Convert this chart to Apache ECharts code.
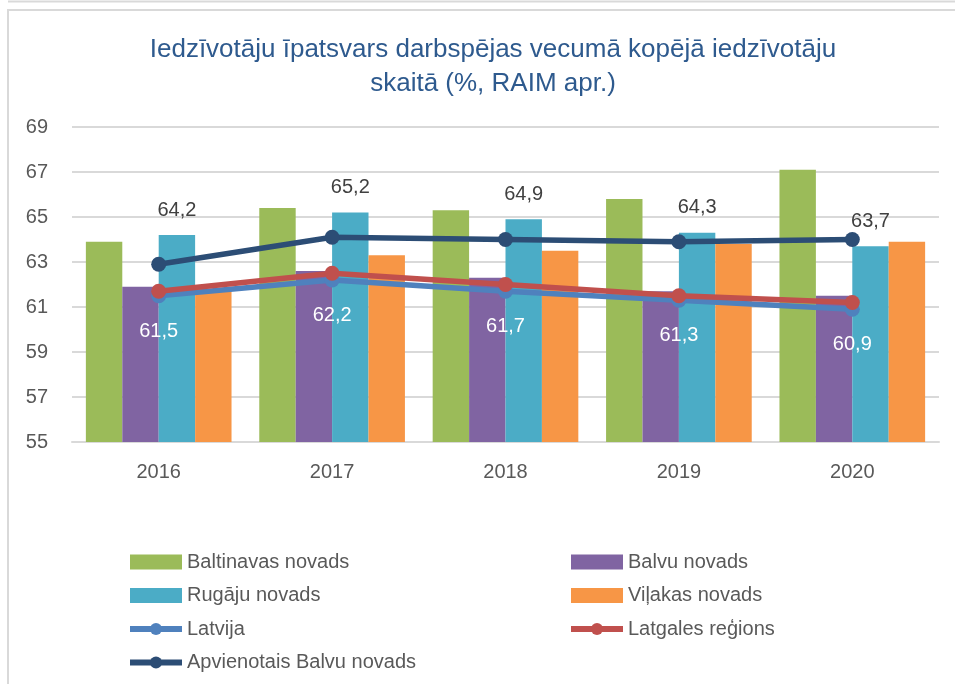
<!DOCTYPE html>
<html>
<head>
<meta charset="utf-8">
<title>Iedzīvotāju īpatsvars darbspējas vecumā</title>
<script src="https://cdn.jsdelivr.net/npm/echarts@6.0.0/dist/echarts.min.js"></script>
<style>
  html, body { margin: 0; padding: 0; background: #fff; }
  #chart { width: 955px; height: 684px; }
</style>
</head>
<body>
<div id="chart"></div>
<script>
const years = ["2016", "2017", "2018", "2019", "2020"];
const baltinavas = [63.9, 65.4, 65.3, 65.8, 67.1];
const balvu = [61.9, 62.6, 62.3, 61.7, 61.5];
const rugaju = [64.2, 65.2, 64.9, 64.3, 63.7];
const vilakas = [61.8, 63.3, 63.5, 63.8, 63.9];
const latvija = [61.5, 62.2, 61.7, 61.3, 60.9];
const latgale = [61.7, 62.5, 62.0, 61.5, 61.2];
const apvienotais = [62.9, 64.1, 64.0, 63.9, 64.0];

window.addEventListener("load", function () {
  const chart = echarts.init(document.getElementById("chart"));
  const font = "Liberation Sans";
  const comma = (p) => String(p.value.toFixed(1)).replace(".", ",");

  const bar = (name, data, color, extra) =>
    Object.assign(
      {
        name: name,
        type: "bar",
        data: data,
        barGap: "0%",
        barCategoryGap: "16%",
        itemStyle: { color: color },
        z: 2,
      },
      extra || {}
    );

  const line = (name, data, color, extra) =>
    Object.assign(
      {
        name: name,
        type: "line",
        data: data,
        symbol: "circle",
        symbolSize: 15,
        lineStyle: { color: color, width: 5.5 },
        itemStyle: { color: color },
        z: 5,
      },
      extra || {}
    );

  const legendText = { color: "#595959", fontSize: 20, fontFamily: font, lineHeight: 20 };
  const barItem = (name) => ({ name: name, icon: "rect" });
  const lineItem = (name) => ({ name: name, lineStyle: { width: 6 } });

  let option = {
    backgroundColor: "#fff",
    animation: false,
    title: {
      text: "Iedzīvotāju īpatsvars darbspējas vecumā kopējā iedzīvotāju\nskaitā (%, RAIM apr.)",
      left: 488,
      textAlign: "center",
      top: 28,
      textStyle: {
        color: "#2E5A8E",
        fontSize: 26,
        fontWeight: "normal",
        fontFamily: font,
        lineHeight: 34,
      },
    },
    graphic: [
      { type: "line", shape: { x1: 8, y1: 1.5, x2: 955, y2: 1.5 }, style: { stroke: "#d9d9d9", lineWidth: 2 } },
      { type: "line", shape: { x1: 8, y1: 10, x2: 955, y2: 10 }, style: { stroke: "#d9d9d9", lineWidth: 2 } },
      { type: "line", shape: { x1: 8, y1: 9, x2: 8, y2: 684 }, style: { stroke: "#d9d9d9", lineWidth: 2 } },
    ],
    legend: [
      {
        orient: "vertical",
        left: 122,
        top: 547,
        itemWidth: 52,
        itemHeight: 15,
        itemGap: 13.5,
        textStyle: legendText,
        data: [
          barItem("Baltinavas novads"),
          barItem("Rugāju novads"),
          lineItem("Latvija"),
          lineItem("Apvienotais Balvu novads"),
        ],
      },
      {
        orient: "vertical",
        left: 563,
        top: 547,
        itemWidth: 52,
        itemHeight: 15,
        itemGap: 13.5,
        textStyle: legendText,
        data: [barItem("Balvu novads"), barItem("Viļakas novads"), lineItem("Latgales reģions")],
      },
    ],
    grid: { left: 72, right: 16, top: 127, bottom: 242 },
    xAxis: {
      type: "category",
      data: years,
      axisTick: { show: false },
      axisLine: { lineStyle: { color: "#d9d9d9", width: 2 } },
      axisLabel: { color: "#595959", fontSize: 20, fontFamily: font, margin: 20 },
    },
    yAxis: {
      type: "value",
      min: 55,
      max: 69,
      interval: 2,
      axisLine: { show: false },
      axisTick: { show: false },
      axisLabel: { color: "#595959", fontSize: 20, fontFamily: font, margin: 24 },
      splitLine: { lineStyle: { color: "#d9d9d9", width: 2 } },
    },
    series: [
      bar("Baltinavas novads", baltinavas, "#9BBB59"),
      bar("Balvu novads", balvu, "#8064A2"),
      bar("Rugāju novads", rugaju, "#4BACC6", {
        label: {
          show: true,
          position: "top",
          distance: 15,
          color: "#404040",
          fontSize: 20,
          fontFamily: font,
          formatter: comma,
        },
      }),
      bar("Viļakas novads", vilakas, "#F79646"),
      line("Latvija", latvija, "#4F81BD", {
        label: {
          show: true,
          position: "bottom",
          distance: 18,
          color: "#ffffff",
          fontSize: 20,
          fontFamily: font,
          formatter: comma,
        },
      }),
      line("Latgales reģions", latgale, "#C0504D", { z: 6 }),
      line("Apvienotais Balvu novads", apvienotais, "#2C4D75", { z: 7 }),
    ],
  };
  chart.setOption(option);
});
</script>
</body>
</html>
